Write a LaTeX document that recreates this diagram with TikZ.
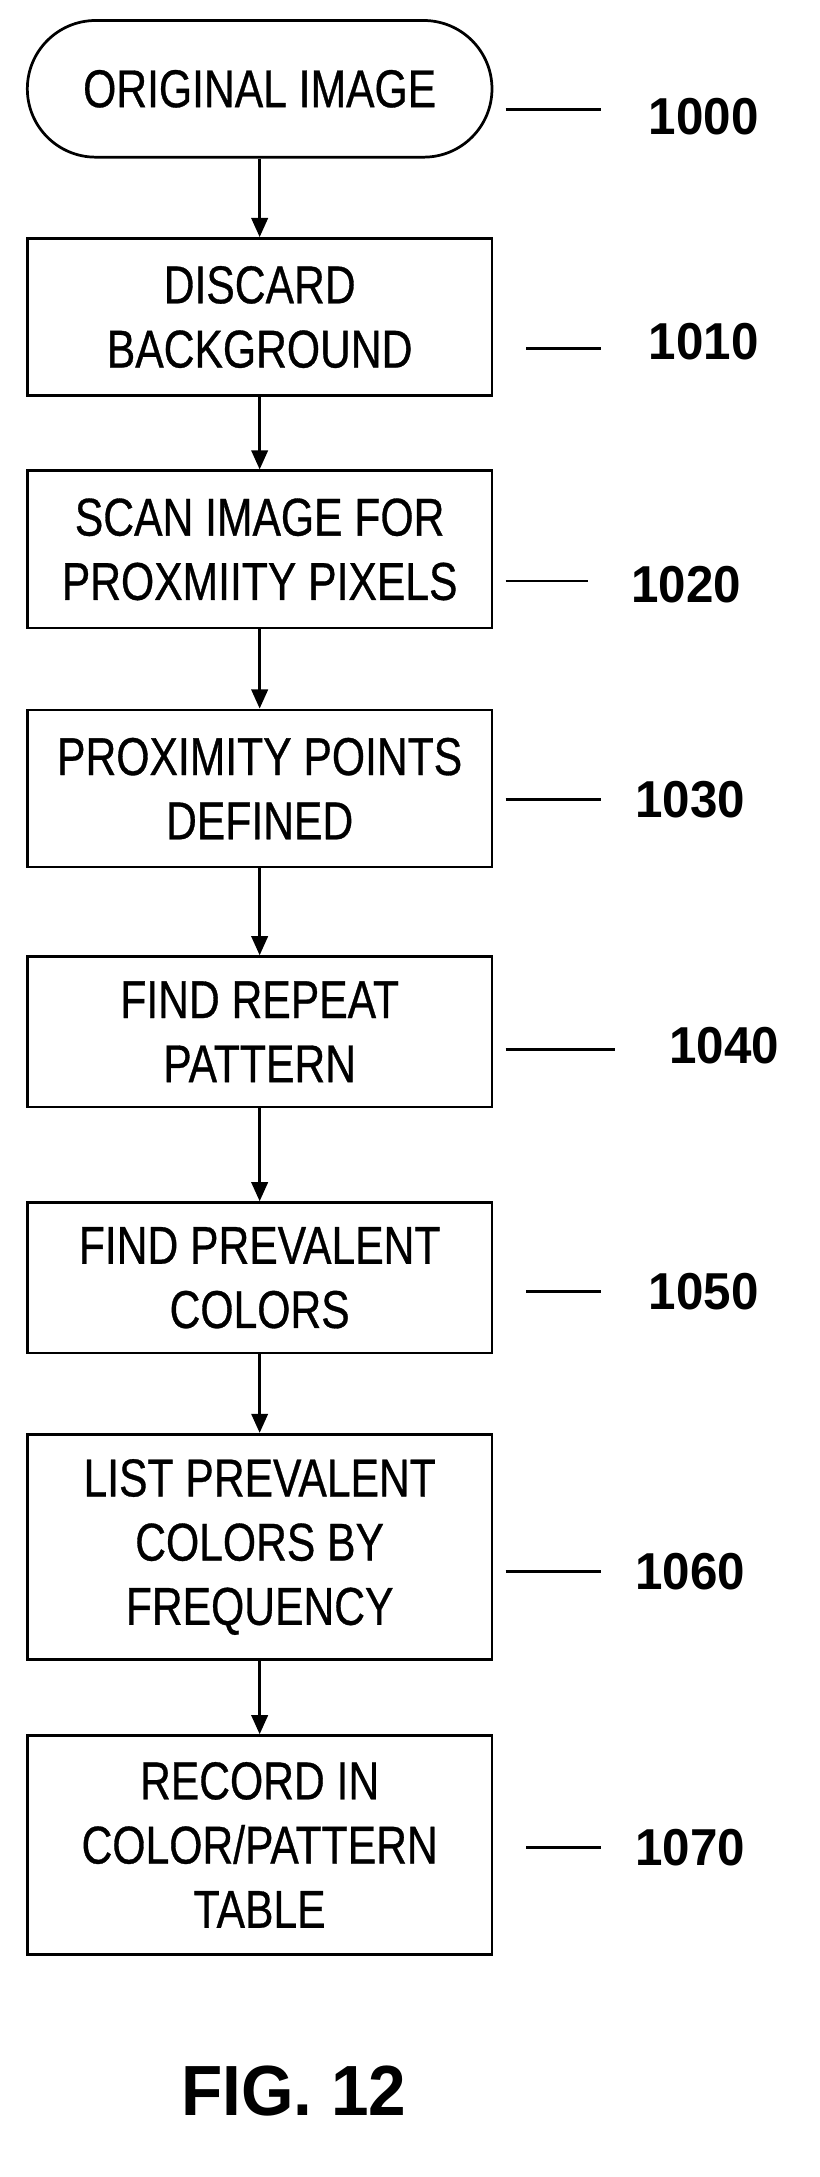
\documentclass[tikz,border=0pt]{standalone}
\usepackage{fontspec}
\setmainfont{Liberation Sans}[FakeStretch=0.8,FakeBold=0.6]
\newfontfamily\numfont{Liberation Sans}[FakeStretch=0.95]
\usetikzlibrary{arrows.meta}
\begin{document}
\begin{tikzpicture}[x=1pt,y=-1pt,
  stepbox/.style={draw,line width=2pt,minimum width=340pt,align=center,font=\fontsize{39}{47}\selectfont,inner sep=0pt},
  term/.style={stepbox,rounded corners=50pt},
  arr/.style={-{Triangle[length=14pt,width=12pt]},line width=2pt},
  lead/.style={line width=1.8pt},
  num/.style={font=\numfont\bfseries\fontsize{38}{38}\selectfont,anchor=center}]
\useasboundingbox (0,0) rectangle (600,1593);
\node[term,minimum height=100pt] (a) at (190,65) {ORIGINAL IMAGE};
\node[stepbox,minimum height=115pt] (b) at (190,232) {DISCARD\\BACKGROUND};
\node[stepbox,minimum height=115pt] (c) at (190,402) {SCAN IMAGE FOR\\PROXMIITY PIXELS};
\node[stepbox,minimum height=115pt] (d) at (190,577) {PROXIMITY POINTS\\DEFINED};
\node[stepbox,minimum height=110pt] (e) at (190,755) {FIND REPEAT\\PATTERN};
\node[stepbox,minimum height=110pt] (f) at (190,935) {FIND PREVALENT\\COLORS};
\node[stepbox,minimum height=165pt] (g) at (190,1132) {LIST PREVALENT\\COLORS BY\\FREQUENCY};
\node[stepbox,minimum height=160pt] (h) at (190,1350) {RECORD IN\\COLOR/PATTERN\\TABLE};
\foreach \p/\q in {a/b,b/c,c/d,d/e,e/f,f/g,g/h} \draw[arr] (\p) -- (\q);
\coordinate (la) at (370,80); \draw[lead] (la) -- ++(70,0); \node[num] (na) at (515,85) {1000};
\coordinate (lb) at (385,255); \draw[lead] (lb) -- ++(55,0); \node[num] (nb) at (515,250) {1010};
\coordinate (lc) at (370,425); \draw[lead] (lc) -- ++(60,0); \node[num] (nc) at (502,428) {1020};
\coordinate (ld) at (370,585); \draw[lead] (ld) -- ++(70,0); \node[num] (nd) at (505,585) {1030};
\coordinate (le) at (370,768); \draw[lead] (le) -- ++(80,0); \node[num] (ne) at (530,765) {1040};
\coordinate (lf) at (385,945); \draw[lead] (lf) -- ++(55,0); \node[num] (nf) at (515,945) {1050};
\coordinate (lg) at (370,1150); \draw[lead] (lg) -- ++(70,0); \node[num] (ng) at (505,1150) {1060};
\coordinate (lh) at (385,1352); \draw[lead] (lh) -- ++(55,0); \node[num] (nh) at (505,1352) {1070};
\node[font=\numfont\bfseries\fontsize{52}{52}\selectfont] (fig) at (215,1530) {FIG. 12};
\end{tikzpicture}
\end{document}
